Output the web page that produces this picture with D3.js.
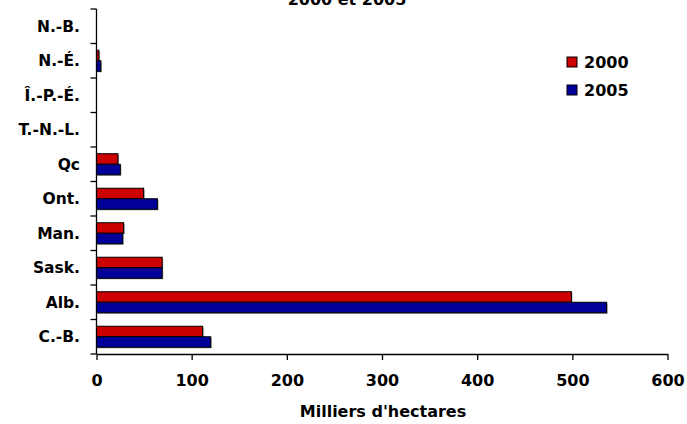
<!DOCTYPE html>
<html><head><meta charset="utf-8">
<script src="https://cdn.jsdelivr.net/npm/d3@7"></script>
<style>body{margin:0;background:#fff}svg{display:block}text{font-family:"DejaVu Sans",Verdana,sans-serif;font-weight:bold;fill:#000}</style>
</head><body>
<script>
const categories = ["N.-B.","N.-É.","Î.-P.-É.","T.-N.-L.","Qc","Ont.","Man.","Sask.","Alb.","C.-B."];
const series2000 = [0, 2.5, 0, 0, 22.5, 49.5, 28.5, 69, 499, 111.5];
const series2005 = [0, 4.5, 0, 0, 25, 64, 27.5, 69, 536, 120];
const seriesNames = ["2000","2005"];
const seriesColors = ["#CC0000","#000099"];
const xTicks = [0,100,200,300,400,500,600];
const titleText = "2000 et 2005";
const xTitle = "Milliers d'hectares";

const W=687,H=424;
const svg=d3.select("body").append("svg").attr("width",W).attr("height",H);
const x=d3.scaleLinear().domain([0,600]).range([96.5,667.5]);
const y=d3.scaleBand().domain(categories).range([9,354]).paddingInner(0.39).paddingOuter(0.195);
const y0=d3.scaleBand().domain(categories).range([9,354]);

// title (cut off at top, as in the reference)
svg.append("text").attr("x",347).attr("y",4.5).attr("text-anchor","middle").style("font-size","16px").text(titleText);

const data=[series2000,series2005];
const bh=y.bandwidth()/2;
data.forEach((vals,si)=>{
  const g=svg.append("g");
  g.selectAll("rect.s").data(vals).join("rect").attr("class","s")
    .attr("x",x(0)+1).attr("y",(d,i)=>y(categories[i])+si*bh+1)
    .attr("width",d=>Math.max(0,x(d)-x(0))).attr("height",bh)
    .attr("fill","#8a8a8a").attr("opacity",d=>d>0?1:0);
  g.selectAll("rect.b").data(vals).join("rect").attr("class","b")
    .attr("x",x(0)).attr("y",(d,i)=>y(categories[i])+si*bh)
    .attr("width",d=>Math.max(0,x(d)-x(0))).attr("height",bh)
    .attr("fill",seriesColors[si]).attr("stroke","#000").attr("stroke-width",1)
    .attr("opacity",d=>d>0?1:0);
});

// y axis
const ya=svg.append("g");
ya.append("line").attr("x1",x(0)).attr("x2",x(0)).attr("y1",9).attr("y2",354).attr("stroke","#000").attr("stroke-width",1.3);
const bounds=categories.map(c=>y0(c)).concat([354]);
ya.selectAll("line.t").data(bounds).join("line").attr("class","t")
  .attr("x1",x(0)-6).attr("x2",x(0)).attr("y1",d=>d).attr("y2",d=>d).attr("stroke","#000").attr("stroke-width",1.3);
ya.selectAll("text").data(categories).join("text")
  .attr("x",80).attr("y",d=>y0(d)+y0.bandwidth()/2).attr("dy","0.36em")
  .attr("text-anchor","end").style("font-size","15.5px").text(d=>d);

// x axis
const xa=svg.append("g").attr("transform","translate(0,354)")
  .call(d3.axisBottom(x).tickValues(xTicks).tickSize(6).tickPadding(15).tickSizeOuter(0));
xa.select(".domain").attr("stroke","#000").attr("stroke-width",1.3);
xa.selectAll(".tick line").attr("stroke","#000").attr("stroke-width",1.3);
xa.selectAll("text").style("font-size","16px").style("font-family",'"DejaVu Sans",sans-serif').style("font-weight","bold").attr("fill","#000");

svg.append("text").attr("x",383).attr("y",417).attr("text-anchor","middle").style("font-size","16px").text(xTitle);

// legend
const lg=svg.append("g");
seriesNames.forEach((n,i)=>{
  lg.append("rect").attr("x",567).attr("y",57+i*28).attr("width",10).attr("height",10)
    .attr("fill",seriesColors[i]).attr("stroke","#000").attr("stroke-width",1);
  lg.append("text").attr("x",584).attr("y",62+i*28).attr("dy","0.36em").style("font-size","16px").text(n);
});
</script>
</body></html>
